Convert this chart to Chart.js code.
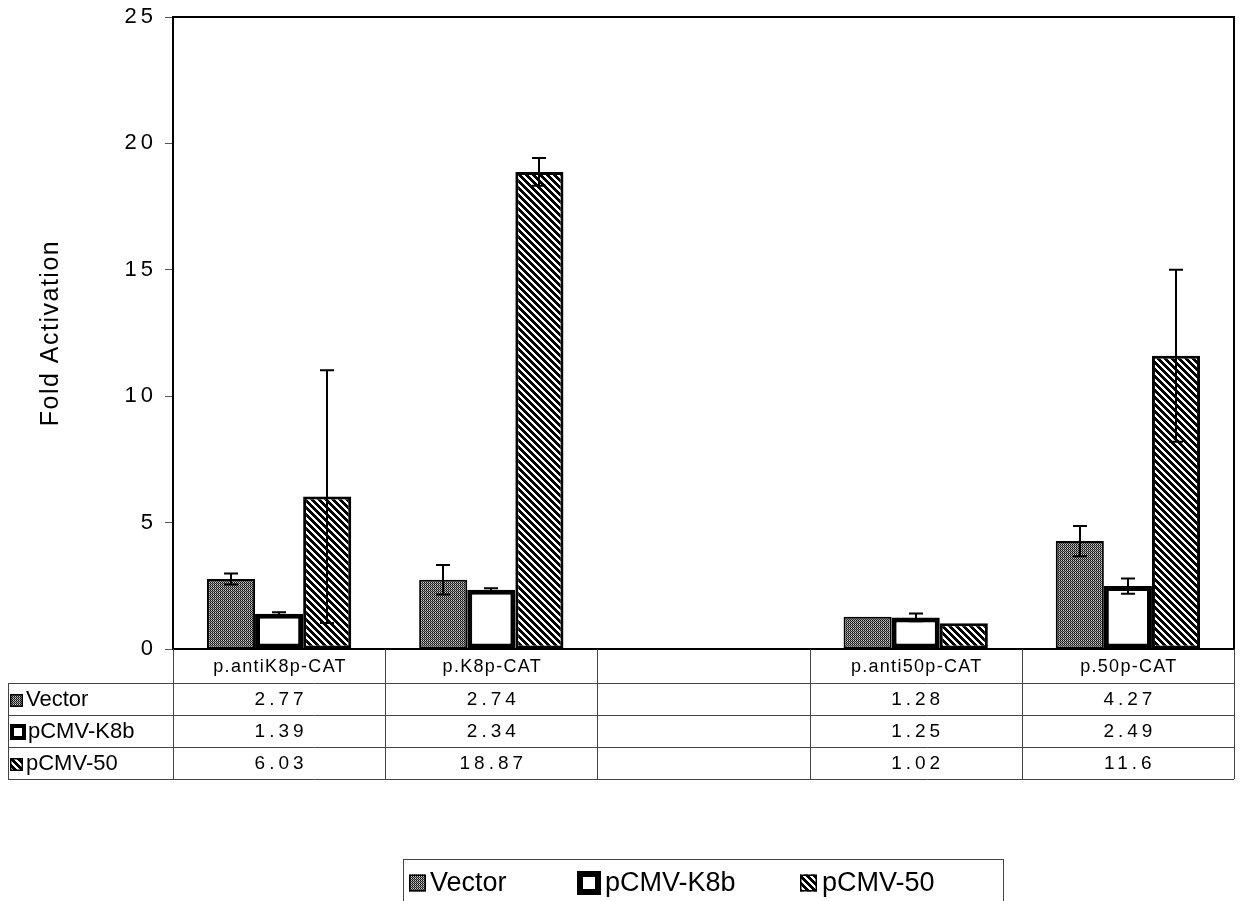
<!DOCTYPE html>
<html>
<head>
<meta charset="utf-8">
<script src="https://cdn.jsdelivr.net/npm/chart.js@4.4.1/dist/chart.umd.min.js"></script>
<style>
html, body { margin: 0; padding: 0; background: #fff; }
canvas { display: block; }
</style>
</head>
<body>
<canvas id="myChart" width="1240" height="901"></canvas>
<script>
'use strict';

var categories = ['p.antiK8p-CAT', 'p.K8p-CAT', '', 'p.anti50p-CAT', 'p.50p-CAT'];
var seriesNames = ['Vector', 'pCMV-K8b', 'pCMV-50'];
var vectorValues = [2.77, 2.74, null, 1.28, 4.27];
var k8bValues = [1.39, 2.34, null, 1.25, 2.49];
var p50Values = [6.03, 18.87, null, 1.02, 11.6];
var vectorErrors = [0.22, 0.58, null, 0, 0.6];
var k8bErrors = [0.06, 0.06, null, 0.15, 0.3];
var p50Errors = [5.0, 0.55, null, 0, 3.4];
var yTicks = [0, 5, 10, 15, 20, 25];

var FONT = "'Liberation Sans', Arial, Helvetica, sans-serif";

// fill patterns like the old b/w print
function makeStipple() {
    var c = document.createElement('canvas');
    c.width = 4; c.height = 4;
    var g = c.getContext('2d');
    for (var y = 0; y < 4; y++) {
        for (var x = 0; x < 4; x++) {
            if ((x + y) % 2 === 0) {
                g.fillStyle = (x % 2 === 0) ? '#0a0a0a' : '#2e2e2e';
            } else {
                g.fillStyle = (y % 2 === 0) ? '#cfcfcf' : '#8a8a8a';
            }
            g.fillRect(x, y, 1, 1);
        }
    }
    return g.createPattern(c, 'repeat');
}

function makeHatch() {
    var c = document.createElement('canvas');
    c.width = 7; c.height = 7;
    var g = c.getContext('2d');
    g.fillStyle = '#fff';
    g.fillRect(0, 0, 7, 7);
    g.fillStyle = '#000';
    for (var y = 0; y < 7; y++) {
        for (var x = 0; x < 7; x++) {
            if (((x - y) % 7 + 7) % 7 < 4) g.fillRect(x, y, 1, 1);
        }
    }
    return g.createPattern(c, 'repeat');
}

var stipple = makeStipple();
var hatch = makeHatch();
var fills = [stipple, '#ffffff', hatch];
var borders = [2, 5, 3];
var valueSets = [vectorValues, k8bValues, p50Values];
var errorSets = [vectorErrors, k8bErrors, p50Errors];

// spaced digits on the y axis
var spacingPlugin = {
    id: 'spacing',
    beforeDraw: function(chart) { chart.ctx.letterSpacing = '4px'; },
    beforeDatasetsDraw: function(chart) { chart.ctx.letterSpacing = '0px'; }
};

var errorBars = {
    id: 'errorBars',
    afterDatasetsDraw: function(chart) {
        var ctx = chart.ctx;
        var ys = chart.scales.y;
        ctx.save();
        ctx.strokeStyle = '#000';
        ctx.lineWidth = 2;
        chart.data.datasets.forEach(function(ds, i) {
            var meta = chart.getDatasetMeta(i);
            meta.data.forEach(function(bar, j) {
                var v = ds.data[j], e = ds.errors[j];
                if (v === null || !e) return;
                var x = Math.round(bar.x);
                var top = ys.getPixelForValue(v + e);
                var bot = ys.getPixelForValue(v - e);
                ctx.beginPath();
                ctx.moveTo(x, top); ctx.lineTo(x, bot);
                ctx.moveTo(x - 7, top); ctx.lineTo(x + 7, top);
                ctx.moveTo(x - 7, bot); ctx.lineTo(x + 7, bot);
                ctx.stroke();
            });
        });
        ctx.restore();
    }
};

function drawKey(ctx, i, x, y, s) {
    ctx.save();
    if (i === 1) {
        ctx.fillStyle = '#000';
        ctx.fillRect(x, y, s, s);
        var b = Math.round(s * 0.25);
        ctx.fillStyle = '#fff';
        ctx.fillRect(x + b, y + b, s - 2 * b, s - 2 * b);
    } else {
        ctx.fillStyle = fills[i];
        ctx.fillRect(x, y, s, s);
        ctx.strokeStyle = '#000';
        ctx.lineWidth = 1.5;
        ctx.strokeRect(x + 0.75, y + 0.75, s - 1.5, s - 1.5);
    }
    ctx.restore();
}

var tableAndLegend = {
    id: 'tableAndLegend',
    afterDraw: function(chart) {
        var ctx = chart.ctx;
        var a = chart.chartArea;
        var xs = chart.scales.x;
        var half = (a.right - a.left) / categories.length / 2;
        var rows = [a.bottom, 683, 715, 747, 779];
        var labelLeft = 8;

        ctx.save();
        // plot frame
        ctx.strokeStyle = '#000';
        ctx.lineWidth = 2;
        ctx.strokeRect(a.left, a.top, a.right - a.left, a.bottom - a.top);

        // table grid
        ctx.strokeStyle = '#444';
        ctx.lineWidth = 1;
        ctx.beginPath();
        for (var r = 1; r < rows.length; r++) {
            ctx.moveTo(labelLeft, rows[r] + 0.5);
            ctx.lineTo(a.right, rows[r] + 0.5);
        }
        ctx.moveTo(labelLeft + 0.5, rows[1]);
        ctx.lineTo(labelLeft + 0.5, rows[4]);
        ctx.moveTo(a.left + 0.5, rows[0]);
        ctx.lineTo(a.left + 0.5, rows[4]);
        for (var c = 0; c < categories.length; c++) {
            var bx = Math.round(xs.getPixelForTick(c) + half) + 0.5;
            ctx.moveTo(bx, rows[0]);
            ctx.lineTo(bx, rows[4]);
        }
        ctx.stroke();

        // header and values
        ctx.fillStyle = '#000';
        ctx.textAlign = 'center';
        ctx.textBaseline = 'middle';
        for (var k = 0; k < categories.length; k++) {
            var cx = xs.getPixelForTick(k);
            ctx.font = '18px ' + FONT;
            ctx.letterSpacing = '1.3px';
            ctx.fillText(categories[k], cx + 1, (rows[0] + rows[1]) / 2 + 1);
            ctx.font = '19px ' + FONT;
            ctx.letterSpacing = '4px';
            for (var s = 0; s < valueSets.length; s++) {
                var v = valueSets[s][k];
                if (v === null) continue;
                ctx.fillText(String(v), cx + 2, (rows[s + 1] + rows[s + 2]) / 2 + 1);
            }
        }

        // row labels
        ctx.letterSpacing = '0px';
        ctx.textAlign = 'left';
        ctx.font = '22px ' + FONT;
        for (var n = 0; n < seriesNames.length; n++) {
            var my = (rows[n + 1] + rows[n + 2]) / 2;
            var ks = n === 1 ? 16 : 13;
            drawKey(ctx, n, 10, Math.round(my - ks / 2) + 1, ks);
            ctx.fillText(seriesNames[n], n === 1 ? 28 : 26, my + 1);
        }

        // legend box
        ctx.strokeStyle = '#444';
        ctx.lineWidth = 1;
        ctx.strokeRect(403.5, 859.5, 600, 60);
        ctx.font = '27px ' + FONT;
        var items = [{x: 409, tx: 430}, {x: 577, tx: 605}, {x: 800, tx: 822}];
        for (var m = 0; m < items.length; m++) {
            var size = m === 1 ? 24 : 17;
            drawKey(ctx, m, items[m].x, 883 - size / 2, size);
            ctx.fillText(seriesNames[m], items[m].tx, 884);
        }

        // y axis title
        ctx.translate(51, (a.top + a.bottom) / 2);
        ctx.rotate(-Math.PI / 2);
        ctx.textAlign = 'center';
        ctx.font = '25px ' + FONT;
        ctx.letterSpacing = '1.5px';
        ctx.fillText('Fold Activation', 0, 0);
        ctx.restore();
    }
};

var ctx = document.getElementById('myChart').getContext('2d');
var myChart = new Chart(ctx, {
    type: 'bar',
    data: {
        labels: categories,
        datasets: seriesNames.map(function(name, i) {
            return {
                label: name,
                data: valueSets[i],
                errors: errorSets[i],
                backgroundColor: fills[i],
                borderColor: '#000',
                borderWidth: borders[i],
                borderSkipped: false,
                barPercentage: 1,
                categoryPercentage: 0.68
            };
        })
    },
    options: {
        responsive: false,
        animation: false,
        devicePixelRatio: 1,
        layout: { padding: { top: 17, right: 6, bottom: 252, left: 0 } },
        plugins: {
            legend: { display: false },
            tooltip: { enabled: false }
        },
        scales: {
            x: { display: false },
            y: {
                min: 0,
                max: 25,
                afterFit: function(scale) {
                    scale.width = 173;
                    scale.paddingTop = 0;
                    scale.paddingBottom = 0;
                },
                afterBuildTicks: function(scale) {
                    scale.ticks = yTicks.map(function(v) { return { value: v }; });
                },
                ticks: {
                    color: '#000',
                    padding: 8,
                    font: { family: FONT, size: 22 }
                },
                grid: {
                    drawOnChartArea: false,
                    drawTicks: true,
                    tickLength: 8,
                    color: '#555'
                },
                border: { color: '#000', width: 2 }
            }
        }
    },
    plugins: [spacingPlugin, errorBars, tableAndLegend]
});
</script>
</body>
</html>
